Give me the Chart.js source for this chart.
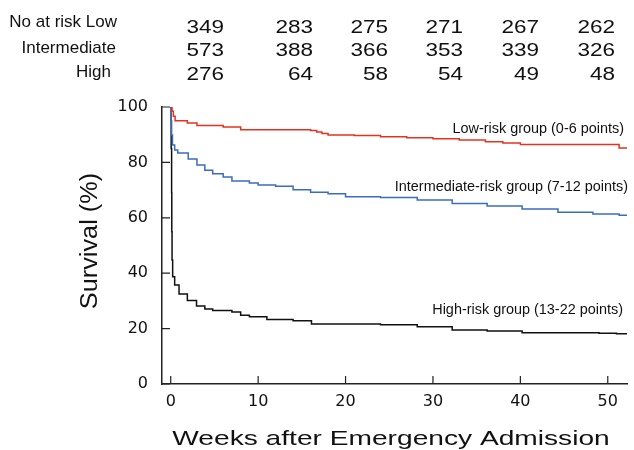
<!DOCTYPE html>
<html>
<head>
<meta charset="utf-8">
<script src="https://cdn.jsdelivr.net/npm/chart.js@4.4.1/dist/chart.umd.min.js"></script>
<style>
  body { margin: 0; background: #fff; }
</style>
</head>
<body>
<canvas id="km" width="634" height="450"></canvas>
<script>
// numbers at risk
const riskRows = ['No at risk Low', 'Intermediate', 'High'];
const atRiskLow = [349, 283, 275, 271, 267, 262];
const atRiskMid = [573, 388, 366, 353, 339, 326];
const atRiskHigh = [276, 64, 58, 54, 49, 48];

// Kaplan-Meier steps (weeks, survival %)
const lowWeeks = [0, 0.15, 0.3, 0.5, 1.9, 3, 6, 8, 16, 16.7, 17.3, 18, 21, 24, 27, 30, 33, 36, 38, 40, 51.3, 52.2];
const lowSurv  = [100, 98.5, 96.7, 95, 94.2, 93.3, 92.8, 91.8, 91.5, 91, 90.4, 89.9, 89.7, 89.3, 88.9, 88.5, 88.1, 87.5, 87, 86.5, 85.2, 85.2];

const midWeeks = [0, 0.05, 0.1, 0.2, 0.45, 0.8, 2, 3, 3.9, 4.8, 6, 7, 9, 10, 12, 14, 16, 18, 20, 24, 28.2, 32.2, 36.2, 40.2, 44.3, 48.3, 51.3, 52.2];
const midSurv  = [100, 95, 89.9, 86.3, 84.5, 83.4, 81.2, 79.1, 77.2, 75.9, 74.7, 73.3, 72.6, 71.8, 71.4, 70.1, 69.2, 68.7, 67.6, 67.3, 66.4, 65.2, 64.3, 63.2, 62, 61.4, 60.9, 60.9];

const highWeeks = [0, 0.05, 0.1, 0.12, 0.15, 0.22, 0.45, 0.95, 1.9, 2.95, 3.9, 4.8, 7, 8, 9, 11, 14, 16.1, 24, 28.2, 32.2, 36.2, 40.2, 49, 51, 52.2];
const highSurv  = [100, 85, 69, 55, 44.8, 38.7, 35.7, 32.5, 30.1, 28.2, 27.1, 26.5, 26, 24.8, 24.3, 23.3, 22.8, 21.7, 21.4, 20.7, 19.5, 19.1, 18.5, 18.3, 18.1, 18.1];

const groupLabels = ['Low-risk group (0-6 points)', 'Intermediate-risk group (7-12 points)', 'High-risk group (13-22 points)'];
const xTicks = [0, 10, 20, 30, 40, 50];
const yTicks = [0, 20, 40, 60, 80, 100];

const INK = '#111';
const SANS = '"Liberation Sans", Arial, sans-serif';

function toPoints(weeks, surv) {
    return weeks.map((w, i) => ({ x: w, y: surv[i] }));
}

function putText(ctx, str, x, y, size, sx, align) {
    ctx.save();
    ctx.font = size + 'px ' + SANS;
    ctx.fillStyle = INK;
    ctx.textAlign = align;
    ctx.textBaseline = 'alphabetic';
    ctx.translate(x, y);
    ctx.scale(sx, 1);
    ctx.fillText(str, 0, 0);
    ctx.restore();
}

// ticks pointing into the plot, plus the text around it
const decorations = {
    id: 'decorations',
    afterDraw(chart) {
        const ctx = chart.ctx;
        const xs = chart.scales.x, ys = chart.scales.y;
        const area = chart.chartArea;

        ctx.save();
        ctx.strokeStyle = '#222';
        ctx.lineWidth = 1.2;
        ctx.beginPath();
        xTicks.forEach(v => {
            const px = xs.getPixelForValue(v);
            ctx.moveTo(px, area.bottom);
            ctx.lineTo(px, area.bottom - 8);
        });
        yTicks.forEach(v => {
            const py = ys.getPixelForValue(v);
            ctx.moveTo(area.left, py);
            ctx.lineTo(area.left + 8, py);
        });
        ctx.stroke();
        ctx.restore();

        // at-risk table
        const labelRight = [117, 116, 111];
        const labelBase = [27, 53, 77];
        const numBase = [33, 56, 80];
        const colRight = [224, 313, 388, 463, 539, 615];
        const rows = [atRiskLow, atRiskMid, atRiskHigh];
        riskRows.forEach((name, r) => {
            putText(ctx, name, labelRight[r], labelBase[r], 17, 1, 'right');
            rows[r].forEach((n, c) => {
                putText(ctx, String(n), colRight[c], numBase[r], 18, 1.25, 'right');
            });
        });

        // curve labels
        const tagRight = [624, 628, 623];
        const tagBase = [133, 191, 314];
        groupLabels.forEach((t, i) => putText(ctx, t, tagRight[i], tagBase[i], 14, 1.03, 'right'));

        // axis titles
        putText(ctx, 'Weeks after Emergency Admission', 391, 445, 21, 1.34, 'center');
        ctx.save();
        ctx.translate(97, 241);
        ctx.rotate(-Math.PI / 2);
        putText(ctx, 'Survival (%)', 0, 0, 23, 1.1, 'center');
        ctx.restore();
    }
};

new Chart(document.getElementById('km'), {
    type: 'line',
    data: {
        datasets: [
            { data: toPoints(lowWeeks, lowSurv), borderColor: '#e5321f' },
            { data: toPoints(midWeeks, midSurv), borderColor: '#3b6cc2' },
            { data: toPoints(highWeeks, highSurv), borderColor: '#111111' }
        ].map(d => Object.assign(d, { stepped: true, pointRadius: 0, borderWidth: 1.5, fill: false }))
    },
    options: {
        responsive: false,
        animation: false,
        layout: { padding: { top: 107, right: 7, left: 0, bottom: 0 } },
        plugins: { legend: { display: false }, tooltip: { enabled: false } },
        scales: {
            x: {
                type: 'linear',
                min: -1,
                max: 52.2,
                afterBuildTicks: s => { s.ticks = xTicks.map(v => ({ value: v })); },
                afterFit: s => { s.height = 66; },
                grid: { display: false, drawTicks: false },
                border: { display: true, color: '#222', width: 1.5 },
                ticks: { color: INK, padding: 8, font: { family: 'DejaVu Sans', size: 16 } }
            },
            y: {
                min: 0,
                max: 100,
                afterBuildTicks: s => { s.ticks = yTicks.map(v => ({ value: v })); },
                afterFit: s => { s.width = 162; },
                grid: { display: false, drawTicks: false },
                border: { display: true, color: '#222', width: 1.5 },
                ticks: { color: INK, padding: 14, font: { family: 'DejaVu Sans', size: 16 } }
            }
        }
    },
    plugins: [decorations]
});
</script>
</body>
</html>
